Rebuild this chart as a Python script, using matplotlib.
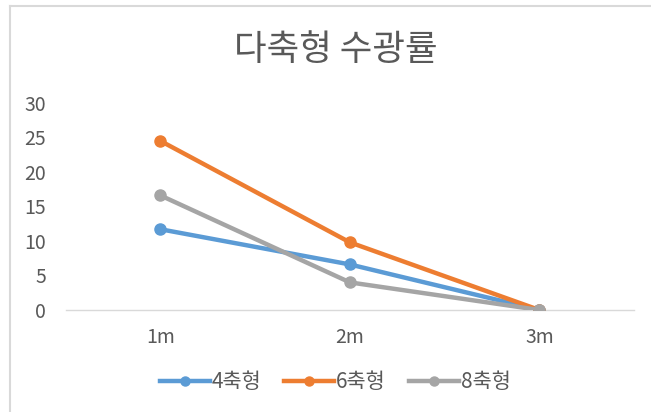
import matplotlib.pyplot as plt
from matplotlib.lines import Line2D

plt.rcParams['font.family'] = ['Noto Sans CJK KR', 'DejaVu Sans']

categories = ['1m', '2m', '3m']
series_names = ['4축형', '6축형', '8축형']
values_4 = [11.7, 6.6, 0]
values_6 = [24.5, 9.8, 0]
values_8 = [16.6, 4.0, 0]
yticks = [0, 5, 10, 15, 20, 25, 30]

colors = ['#5b9bd5', '#ed7d31', '#a5a5a5']
text_color = '#595959'

fig = plt.figure(figsize=(6.51, 4.12), dpi=100)
ax = fig.add_axes([0.101, 0.2476, 0.873, 0.5024])

x = range(len(categories))
for vals, c, name in zip([values_4, values_6, values_8], colors, series_names):
    ax.plot(x, vals, color=c, lw=3.2, marker='o', ms=8, label=name,
            solid_capstyle='round', zorder=3)

ax.set_xlim(-0.5, len(categories) - 0.5)
ax.set_ylim(0, 30)
ax.set_xticks(list(x))
ax.set_xticklabels(categories)
ax.set_yticks(yticks)
ax.tick_params(axis='both', length=0, labelsize=14, labelcolor=text_color)
ax.tick_params(axis='y', pad=14)
ax.tick_params(axis='x', pad=12)

for s in ['top', 'right', 'left']:
    ax.spines[s].set_visible(False)
ax.spines['bottom'].set_color('#d9d9d9')
ax.spines['bottom'].set_linewidth(1)
ax.spines['bottom'].set_zorder(1)

fig.text(0.516, 0.878, '다축형 수광률', ha='center', va='center',
         fontsize=25.5, color=text_color)

handles = [Line2D([0], [0], color=c, lw=3.2, marker='o', ms=6.5) for c in colors]
fig.legend(handles, series_names, loc='center', bbox_to_anchor=(0.515, 0.073),
           ncol=3, frameon=False, fontsize=15, labelcolor=text_color,
           handlelength=2.4, handletextpad=0.1, columnspacing=1.1)

# light frame along the top and left edges
fig.add_artist(Line2D([0.0154, 0.0154], [0, 0.985], color='#d9d9d9', lw=1.5,
                      transform=fig.transFigure))
fig.add_artist(Line2D([0.0154, 1], [0.985, 0.985], color='#d9d9d9', lw=1.5,
                      transform=fig.transFigure))

fig.savefig('out.png', dpi=100)
